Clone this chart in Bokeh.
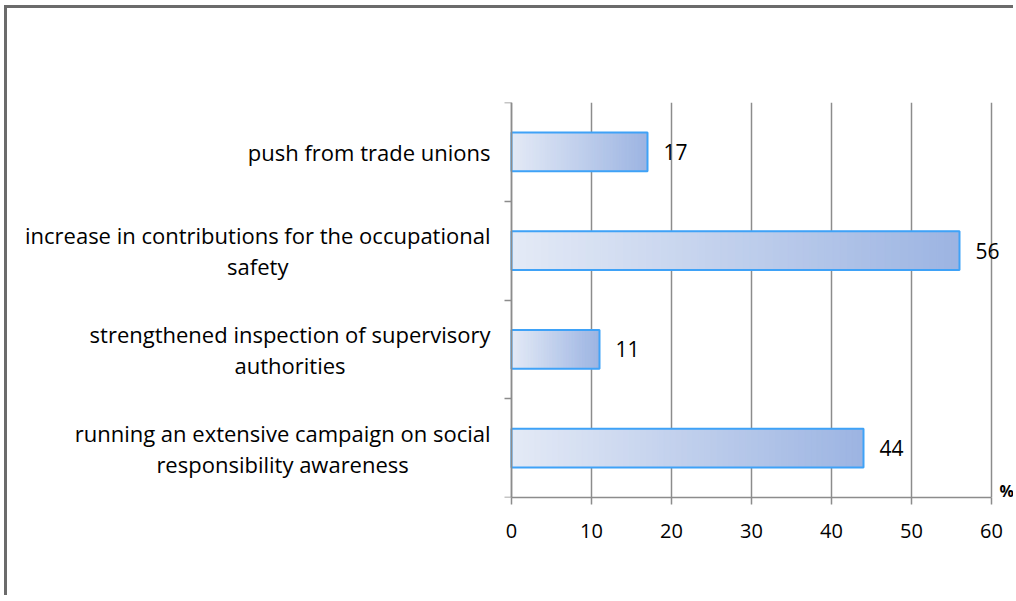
from bokeh.plotting import figure
from bokeh.models import Range1d, FixedTicker, Label, LabelSet, ColumnDataSource, LinearAxis
from bokeh.core.properties import value
from bokeh.embed import file_html
from bokeh.resources import INLINE

categories = [
    "push from trade unions",
    "increase in contributions for the occupational\nsafety",
    "strengthened inspection of supervisory\nauthorities",
    "running an extensive campaign on social\nresponsibility awareness",
]
values = [17, 56, 11, 44]
x_ticks = [0, 10, 20, 30, 40, 50, 60]
unit_label = "%"

FONT = "Open Sans"
GRAY = "#8c8c8c"
n = len(categories)
ys = [n - 0.5 - i for i in range(n)]
bar_h = 0.39

p = figure(width=1009, height=590, output_backend="svg", toolbar_location=None,
           x_range=Range1d(-63, 63.125), y_range=Range1d(0, n),
           y_axis_location=None,
           min_border_left=0, min_border_right=0, min_border_top=94, min_border_bottom=101)
p.outline_line_color = None
p.background_fill_color = "white"
p.border_fill_color = "white"
p.styles = {"border-top": "3px solid #6b6b6b", "border-left": "3px solid #6b6b6b",
            "margin-left": "4px", "margin-top": "5px"}

p.ygrid.visible = False
p.xgrid.ticker = FixedTicker(ticks=x_ticks)
p.xgrid.grid_line_color = GRAY
p.xgrid.grid_line_width = 1.5

# gradient bars built as thin slices of each bar
N = 60
c0 = (228, 234, 246)
c1 = (156, 180, 226)
lefts, rights, tops, bottoms, colors = [], [], [], [], []
for v, y in zip(values, ys):
    for k in range(N):
        lefts.append(v * k / N)
        rights.append(v * (k + 1) / N)
        tops.append(y + bar_h / 2)
        bottoms.append(y - bar_h / 2)
        t = (k + 0.5) / N
        colors.append("#%02x%02x%02x" % tuple(round(a + (b - a) * t) for a, b in zip(c0, c1)))
p.quad(left=lefts, right=rights, top=tops, bottom=bottoms,
       fill_color=colors, line_color=colors, line_width=1)
p.hbar(y=ys, left=0, right=values, height=bar_h, fill_color=None,
       line_color="#3fa2f7", line_width=2)

# value labels
src = ColumnDataSource(dict(x=values, y=ys, t=[str(v) for v in values]))
p.add_layout(LabelSet(x="x", y="y", text="t", source=src, x_offset=16,
                      text_baseline="middle", text_font=value(FONT), text_font_size="21px",
                      text_color="#000000"))

# category labels
for cat, y in zip(categories, ys):
    p.add_layout(Label(x=0, y=y, x_offset=-21, text=cat, text_font=FONT,
                       text_font_size="22px", text_color="#000000",
                       text_align="center", text_baseline="middle",
                       anchor="center_right", text_line_height=1.04))

p.add_layout(Label(x=x_ticks[-1], y=0, x_offset=8, y_offset=7, text=unit_label,
                   text_font=FONT, text_font_size="16px", text_font_style="bold",
                   text_color="#000000", text_baseline="middle"))

# category axis (band boundaries) fixed at x = 0
yax = LinearAxis(fixed_location=0, bounds=(0, n), ticker=FixedTicker(ticks=list(range(n + 1))))
yax.major_label_overrides = {i: "" for i in range(n + 1)}
yax.major_label_standoff = 0
yax.axis_line_color = GRAY
yax.axis_line_width = 1.5
yax.major_tick_line_color = GRAY
yax.major_tick_line_width = 1.5
yax.major_tick_out = 0
yax.major_tick_in = 7
yax.minor_tick_line_color = None
p.add_layout(yax, "right")

p.xaxis.ticker = FixedTicker(ticks=x_ticks)
p.xaxis.bounds = (0, x_ticks[-1])
p.xaxis.axis_line_color = GRAY
p.xaxis.axis_line_width = 1.5
p.xaxis.major_tick_line_color = GRAY
p.xaxis.major_tick_line_width = 1.5
p.xaxis.major_tick_out = 7
p.xaxis.major_tick_in = 0
p.xaxis.minor_tick_line_color = None
p.xaxis.major_label_text_font = FONT
p.xaxis.major_label_text_font_size = "20px"
p.xaxis.major_label_text_color = "#000000"
p.xaxis.major_label_standoff = 19

open("out.html", "w").write(file_html(p, INLINE))
